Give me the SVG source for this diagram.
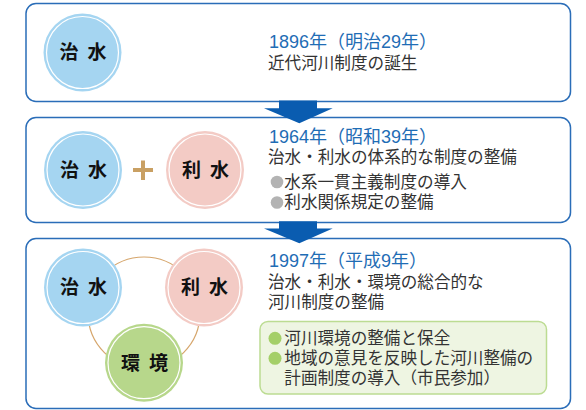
<svg xmlns="http://www.w3.org/2000/svg" width="586" height="410" viewBox="0 0 586 410">
<style>
.box{fill:#fff;stroke:#2a6db8;stroke-width:1.5}
.arrow{fill:#0a5cb0}
.ring{fill:none;stroke:#fff;stroke-width:1.2}
.blue{fill:#a5d5f1}
.pink{fill:#f3cbc5}
.green{fill:#b7d78b}
.ctext{font-family:"Noto Sans CJK JP",sans-serif;font-weight:700;font-size:19px;fill:#111;text-anchor:middle}
.title{font-family:"Liberation Sans","Noto Sans CJK JP",sans-serif;font-size:18px;fill:#1f6db5}
.body{font-family:"Noto Sans CJK JP",sans-serif;font-size:16.6px;fill:#333}
.gbul{fill:#a4cf68}
.kbul{fill:#b3b3b3}
</style>
<rect width="586" height="410" fill="#fff"/>
<g id="box1">
<rect class="box" x="26" y="3.5" width="544.5" height="98" rx="10"/>
<g id="node-chisui-1">
<circle class="blue" cx="82.5" cy="52.5" r="39"/>
<circle class="ring" cx="82.5" cy="52.5" r="36"/>
<text class="ctext" x="69" y="58.5">治</text><text class="ctext" x="97" y="58.5">水</text>
</g>
<text class="title" x="269" y="48">1896年（明治29年）</text>
<text class="body" x="268" y="68.5">近代河川制度の誕生</text>
</g>
<g id="box2">
<rect class="box" x="26" y="117.5" width="544.5" height="105" rx="10"/>
<g id="node-chisui-2">
<circle class="blue" cx="83" cy="170" r="39"/>
<circle class="ring" cx="83" cy="170" r="36"/>
<text class="ctext" x="69.5" y="176.5">治</text><text class="ctext" x="97.5" y="176.5">水</text>
</g>
<g id="plus">
<rect x="133" y="168" width="20" height="4" fill="#c9a063"/>
<rect x="141" y="160.5" width="4" height="19.5" fill="#c9a063"/>
</g>
<g id="node-risui-2">
<circle class="pink" cx="205" cy="170" r="39"/>
<circle class="ring" cx="205" cy="170" r="36"/>
<text class="ctext" x="191.5" y="176.5">利</text><text class="ctext" x="219.5" y="176.5">水</text>
</g>
<text class="title" x="269" y="143">1964年（昭和39年）</text>
<text class="body" x="268" y="163">治水・利水の体系的な制度の整備</text>
<circle class="kbul" cx="277" cy="182" r="6.3"/>
<text class="body" x="284.3" y="188">水系一貫主義制度の導入</text>
<circle class="kbul" cx="277" cy="202.5" r="6.3"/>
<text class="body" x="284.3" y="208">利水関係規定の整備</text>
</g>
<g id="box3">
<rect class="box" x="26" y="238.5" width="544.5" height="170" rx="10"/>
<circle cx="144" cy="313" r="56" fill="none" stroke="#d6a66c" stroke-width="1.2"/>
<g id="node-chisui-3">
<circle class="blue" cx="83" cy="287.5" r="39"/>
<circle class="ring" cx="83" cy="287.5" r="36"/>
<text class="ctext" x="69.5" y="294">治</text><text class="ctext" x="97.5" y="294">水</text>
</g>
<g id="node-risui-3">
<circle class="pink" cx="204" cy="287.5" r="39"/>
<circle class="ring" cx="204" cy="287.5" r="36"/>
<text class="ctext" x="190.5" y="294">利</text><text class="ctext" x="218.5" y="294">水</text>
</g>
<g id="node-kankyo-3">
<circle class="green" cx="144" cy="362.7" r="39"/>
<circle class="ring" cx="144" cy="362.7" r="36"/>
<text class="ctext" x="130.5" y="369.5">環</text><text class="ctext" x="158.5" y="369.5">境</text>
</g>
<text class="title" x="269" y="267">1997年（平成9年）</text>
<text class="body" x="268" y="288">治水・利水・環境の総合的な</text>
<text class="body" x="268" y="308">河川制度の整備</text>
<rect x="260" y="321.5" width="286.5" height="72.5" rx="8" fill="#eef5e2" stroke="#bcdc92" stroke-width="1.5"/>
<circle class="gbul" cx="275" cy="338.3" r="6.5"/>
<text class="body" x="284.3" y="344">河川環境の整備と保全</text>
<circle class="gbul" cx="275" cy="358.3" r="6.5"/>
<text class="body" x="284.3" y="364">地域の意見を反映した河川整備の</text>
<text class="body" x="284.3" y="384">計画制度の導入（市民参加）</text>
</g>
<g id="connectors">
<path class="arrow" d="M279 100.5 H317 V108.3 H332.7 L299.3 123.3 L264 108.3 H279 Z"/>
<path class="arrow" d="M279 221.3 H317 V228.5 H332.7 L299.3 243.3 L264 228.5 H279 Z"/>
</g>
</svg>
